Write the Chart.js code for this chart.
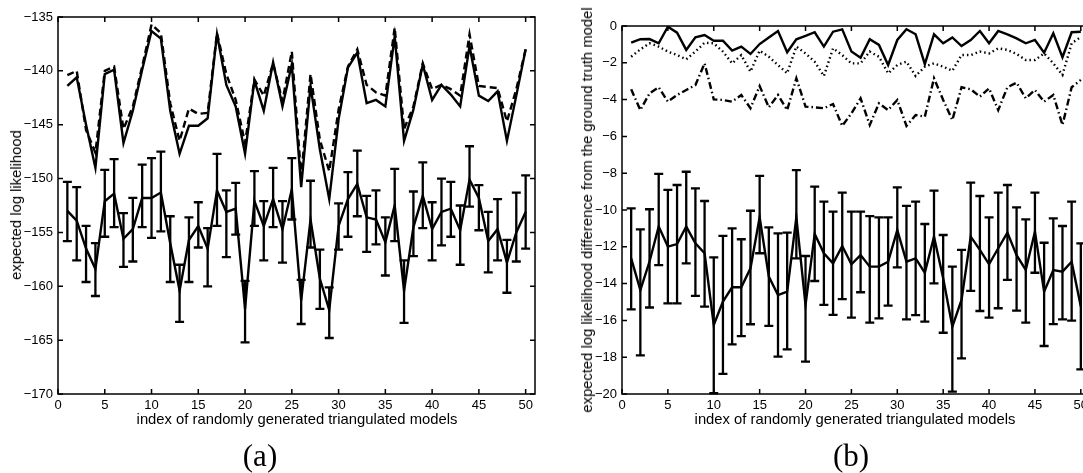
<!DOCTYPE html>
<html>
<head>
<meta charset="utf-8">
<script src="https://cdn.jsdelivr.net/npm/chart.js@4.4.0/dist/chart.umd.min.js"></script>
<style>
  html, body { margin: 0; padding: 0; background: #fff; }
  body { width: 1083px; height: 473px; position: relative; overflow: hidden; font-family: "Liberation Sans", Arial, sans-serif; }
  canvas { position: absolute; top: 0; }
  #leftChart { left: 0; }
  #rightChart { left: 540px; }
  .xtitle { position: absolute; font-size: 14.8px; white-space: nowrap; transform: translate(-50%, -50%); }
  .ytitle { position: absolute; font-size: 14.8px; white-space: nowrap; transform: translate(-50%, -50%) rotate(-90deg); }
  .caption { position: absolute; font-family: "Liberation Serif", "Times New Roman", serif; font-size: 31px; transform: translate(-50%, -50%); }
</style>
</head>
<body>
<canvas id="leftChart" width="545" height="473"></canvas>
<canvas id="rightChart" width="560" height="473"></canvas>
<div class="ytitle" style="left:16px; top:205px;">expected log likelihood</div>
<div class="xtitle" style="left:297px; top:419px;">index of randomly generated triangulated models</div>
<div class="caption" style="left:260px; top:456px;">(a)</div>
<div class="ytitle" style="left:587px; top:210px;">expected log likelihood difference from the ground truth model</div>
<div class="xtitle" style="left:855px; top:419px;">index of randomly generated triangulated models</div>
<div class="caption" style="left:851px; top:456px;">(b)</div>
<script>
// model index on the x axis
const modelIndex = [1,2,3,4,5,6,7,8,9,10,11,12,13,14,15,16,17,18,19,20,21,22,23,24,25,
  26,27,28,29,30,31,32,33,34,35,36,37,38,39,40,41,42,43,44,45,46,47,48,49,50];
const xTicks = [0, 5, 10, 15, 20, 25, 30, 35, 40, 45, 50];

// (a) expected log likelihood
const leftYTicks = [-170, -165, -160, -155, -150, -145, -140, -135];
const leftSolid = [-141.4,-140.6,-145.0,-149.0,-140.3,-139.9,-146.7,-143.7,-139.9,-136.3,
  -137.0,-143.7,-147.7,-145.1,-145.1,-144.4,-136.6,-141.3,-143.3,-147.7,
  -140.9,-143.7,-139.2,-143.3,-139.4,-150.8,-141.4,-147.3,-151.9,-144.5,
  -139.7,-138.3,-143.0,-142.7,-143.3,-136.8,-146.5,-143.6,-139.4,-142.7,
  -141.3,-142.2,-143.3,-137.7,-142.3,-142.8,-141.9,-146.5,-142.3,-138.0];
const leftDashed = [-140.4,-140.0,-145.5,-147.6,-140.0,-139.6,-145.4,-143.3,-139.6,-135.7,
  -136.5,-143.0,-146.5,-143.5,-144.0,-143.9,-136.5,-140.3,-142.7,-146.7,
  -140.8,-142.3,-139.3,-142.8,-138.2,-149.8,-140.3,-146.4,-149.3,-143.6,
  -139.6,-138.0,-141.3,-142.0,-142.3,-136.0,-145.4,-143.3,-139.3,-141.7,
  -141.3,-141.7,-142.3,-136.6,-141.4,-141.5,-141.6,-144.7,-141.7,-138.0];
const leftMean = [-153.0,-153.9,-156.5,-158.4,-152.1,-151.4,-155.6,-154.7,-151.8,-151.8,
  -151.3,-156.0,-160.4,-155.7,-154.4,-156.5,-151.1,-153.1,-152.8,-162.1,
  -152.1,-154.4,-151.9,-154.7,-151.0,-161.3,-153.8,-159.3,-162.2,-154.4,
  -151.9,-150.5,-153.6,-153.8,-155.9,-152.5,-160.4,-154.5,-151.6,-154.7,
  -153.1,-152.8,-154.8,-150.1,-151.8,-155.8,-154.7,-157.8,-155.0,-153.1];
const leftHigh = [-150.3,-150.8,-154.4,-156.0,-149.2,-148.2,-153.2,-151.8,-148.7,-148.1,
  -147.5,-153.5,-158.0,-153.6,-152.2,-154.6,-147.7,-151.1,-150.4,-159.5,
  -149.3,-152.1,-149.0,-152.1,-148.1,-159.4,-150.2,-156.6,-160.1,-152.3,
  -149.4,-147.4,-151.6,-151.1,-153.6,-149.1,-157.6,-151.2,-148.5,-152.2,
  -150.0,-150.3,-152.5,-147.0,-150.6,-153.1,-151.9,-155.7,-151.3,-149.7];
const leftLow = [-155.8,-157.6,-159.6,-160.9,-155.4,-154.5,-158.2,-157.7,-154.5,-155.5,
  -154.9,-159.6,-163.3,-159.6,-156.4,-160.0,-154.4,-157.3,-155.2,-165.2,
  -154.4,-157.6,-154.5,-157.8,-153.8,-163.5,-156.4,-162.1,-164.8,-156.6,
  -155.4,-153.5,-156.8,-156.1,-159.0,-155.8,-163.4,-157.2,-154.6,-157.6,
  -156.2,-155.4,-158.0,-152.6,-154.8,-158.7,-157.6,-160.6,-157.7,-156.5];

// (b) difference from the ground truth model
const rightYTicks = [-20, -18, -16, -14, -12, -10, -8, -6, -4, -2, 0];
const rightSolid = [-0.91,-0.72,-0.71,-0.94,-0.04,-0.36,-1.30,-0.62,-0.49,-0.80,
  -0.80,-1.34,-1.12,-1.52,-0.98,-0.62,-0.27,-1.43,-0.72,-0.54,
  -0.34,-1.12,-0.31,-0.18,-1.39,-1.72,-0.72,-1.03,-2.12,-0.76,
  -0.18,-0.45,-2.07,-0.45,-0.94,-0.62,-1.09,-0.76,-0.27,-0.94,
  -0.27,-0.45,-0.67,-0.94,-0.76,-1.45,-0.40,-1.70,-0.34,-0.31];
const rightDotted = [-1.67,-1.27,-0.94,-1.12,-1.39,-1.58,-1.81,-1.39,-0.91,-0.94,
  -1.39,-2.03,-1.58,-2.48,-1.34,-1.67,-2.12,-2.57,-1.12,-1.49,
  -1.94,-2.72,-1.21,-1.58,-2.03,-2.03,-1.39,-1.67,-2.57,-2.12,
  -1.94,-2.72,-2.21,-2.03,-2.21,-2.43,-1.58,-1.58,-1.39,-1.49,
  -1.21,-1.30,-1.52,-1.85,-1.85,-1.49,-2.03,-2.66,-0.94,-0.60];
const rightDashDot = [-3.44,-4.57,-3.66,-3.33,-4.11,-3.75,-3.48,-3.21,-2.03,-3.99,
  -4.02,-4.11,-3.75,-4.47,-3.26,-4.42,-3.75,-4.57,-2.84,-4.38,
  -4.42,-4.47,-4.24,-5.43,-4.75,-3.93,-5.38,-4.20,-4.57,-4.02,
  -5.43,-4.84,-4.93,-2.84,-4.02,-5.11,-3.33,-3.44,-3.84,-3.39,
  -4.57,-3.33,-3.08,-3.93,-3.48,-4.11,-3.75,-5.38,-3.33,-2.93];
const rightMean = [-12.63,-14.35,-12.80,-10.90,-11.99,-11.85,-10.90,-11.81,-12.35,-16.25,
  -14.98,-14.20,-14.20,-13.17,-10.40,-13.62,-14.62,-14.44,-10.40,-15.16,
  -11.30,-12.35,-12.90,-11.96,-12.95,-12.45,-13.08,-13.08,-12.81,-11.09,
  -12.81,-12.63,-13.41,-11.45,-13.71,-16.34,-14.89,-11.45,-12.17,-12.95,
  -12.08,-11.23,-12.45,-13.26,-11.18,-14.44,-13.26,-13.35,-12.81,-15.25];
const rightHigh = [-9.91,-11.05,-9.96,-8.04,-8.91,-8.64,-7.92,-8.82,-9.51,-12.57,
  -11.41,-11.00,-11.59,-10.04,-8.15,-10.94,-11.27,-11.23,-7.83,-12.50,
  -8.73,-9.55,-10.09,-9.06,-10.09,-10.09,-10.33,-10.40,-10.40,-8.77,
  -9.78,-9.55,-10.76,-8.95,-11.36,-13.08,-12.17,-8.51,-9.24,-10.40,
  -9.06,-8.64,-9.86,-10.51,-9.06,-11.78,-10.45,-10.87,-9.55,-11.81];
const rightLow = [-15.40,-17.90,-15.30,-13.00,-15.07,-15.07,-12.90,-14.67,-15.25,-19.96,
  -18.91,-17.30,-16.85,-16.21,-12.35,-16.30,-17.97,-17.57,-12.63,-18.24,
  -13.86,-15.16,-15.70,-14.84,-15.85,-14.47,-16.12,-15.89,-15.20,-13.12,
  -15.94,-15.71,-16.07,-13.99,-16.67,-19.87,-18.06,-14.40,-15.49,-15.85,
  -15.34,-13.80,-15.47,-16.12,-13.41,-17.39,-16.20,-15.94,-16.01,-18.66];

function points(values) {
  return values.map((v, i) => ({ x: modelIndex[i], y: v }));
}

// box round the plot area with MATLAB style inward ticks
const framePlugin = {
  id: 'frame',
  afterDraw(chart) {
    const ctx = chart.ctx;
    const a = chart.chartArea;
    const xs = chart.scales.x, ys = chart.scales.y;
    const len = 5;
    ctx.save();
    ctx.strokeStyle = '#000';
    ctx.lineWidth = 1.5;
    ctx.strokeRect(a.left, a.top, a.right - a.left, a.bottom - a.top);
    ctx.beginPath();
    xs.ticks.forEach(t => {
      const px = xs.getPixelForValue(t.value);
      ctx.moveTo(px, a.bottom); ctx.lineTo(px, a.bottom - len);
      ctx.moveTo(px, a.top); ctx.lineTo(px, a.top + len);
    });
    ys.ticks.forEach(t => {
      const py = ys.getPixelForValue(t.value);
      ctx.moveTo(a.left, py); ctx.lineTo(a.left + len, py);
      ctx.moveTo(a.right, py); ctx.lineTo(a.right - len, py);
    });
    ctx.stroke();
    ctx.restore();
  }
};

const errorBarPlugin = {
  id: 'errorBars',
  afterDatasetsDraw(chart, args, opts) {
    if (!opts || !opts.low) return;
    const ctx = chart.ctx;
    const xs = chart.scales.x, ys = chart.scales.y;
    const cap = 4.5;
    ctx.save();
    ctx.strokeStyle = '#000';
    ctx.lineWidth = 2.3;
    ctx.beginPath();
    opts.low.forEach((lo, i) => {
      const px = xs.getPixelForValue(modelIndex[i]);
      const pLo = ys.getPixelForValue(lo);
      const pHi = ys.getPixelForValue(opts.high[i]);
      ctx.moveTo(px, pLo); ctx.lineTo(px, pHi);
      ctx.moveTo(px - cap, pLo); ctx.lineTo(px + cap, pLo);
      ctx.moveTo(px - cap, pHi); ctx.lineTo(px + cap, pHi);
    });
    ctx.stroke();
    ctx.restore();
  }
};

function lineSet(values, dash) {
  return {
    data: points(values),
    borderColor: '#000',
    borderWidth: 2.4,
    borderDash: dash || [],
    pointRadius: 0,
    tension: 0,
    fill: false
  };
}

function makeChart(id, datasets, yTicks, yMin, yMax, xMax, pad, yWidth, xHeight, errors) {
  return new Chart(document.getElementById(id), {
    type: 'line',
    data: { datasets: datasets },
    options: {
      responsive: false,
      animation: false,
      devicePixelRatio: 1,
      layout: { padding: pad },
      plugins: {
        legend: { display: false },
        tooltip: { enabled: false },
        errorBars: errors
      },
      scales: {
        x: {
          type: 'linear', min: 0, max: xMax,
          grid: { display: false, drawTicks: false },
          border: { display: false },
          afterBuildTicks: s => { s.ticks = xTicks.map(v => ({ value: v })); },
          afterFit: s => { s.height = xHeight; },
          ticks: { padding: 4, color: '#000', font: { family: 'Liberation Sans', size: 13 } }
        },
        y: {
          type: 'linear', min: yMin, max: yMax,
          grid: { display: false, drawTicks: false },
          border: { display: false },
          afterBuildTicks: s => { s.ticks = yTicks.map(v => ({ value: v })); },
          afterFit: s => { s.width = yWidth; },
          ticks: {
            padding: 5, color: '#000', font: { family: 'Liberation Sans', size: 13 },
            callback: v => String(v).replace('-', '\u2212')
          }
        }
      }
    },
    plugins: [framePlugin, errorBarPlugin]
  });
}

makeChart('leftChart', [
  lineSet(leftSolid),
  lineSet(leftDashed, [7, 4]),
  lineSet(leftMean)
], leftYTicks, -170, -135, 51, { top: 17, right: 10, left: 0, bottom: 0 }, 58, 79,
  { low: leftLow, high: leftHigh });

makeChart('rightChart', [
  lineSet(rightSolid),
  lineSet(rightDotted, [1.5, 3]),
  lineSet(rightDashDot, [7, 3, 1.5, 3]),
  lineSet(rightMean)
], rightYTicks, -20, 0, 51, { top: 26, right: 10, left: 0, bottom: 0 }, 82, 79,
  { low: rightLow, high: rightHigh });
</script>
</body>
</html>
